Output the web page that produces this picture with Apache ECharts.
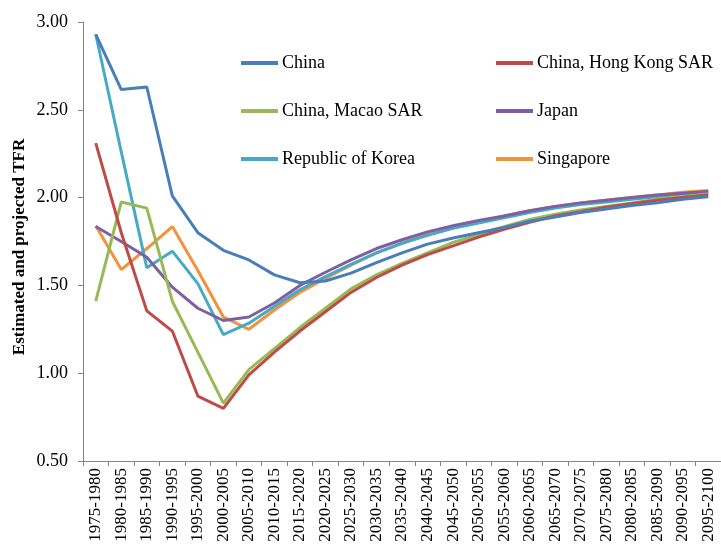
<!DOCTYPE html>
<html><head><meta charset="utf-8">
<script src="https://cdn.jsdelivr.net/npm/echarts@6/dist/echarts.min.js"></script>
<style>html,body{margin:0;padding:0;background:#fff}#c{width:721px;height:552px}</style>
</head><body><div id="c"></div>
<script>
var categories = ['1975-1980','1980-1985','1985-1990','1990-1995','1995-2000','2000-2005','2005-2010','2010-2015','2015-2020','2020-2025','2025-2030','2030-2035','2035-2040','2040-2045','2045-2050','2050-2055','2055-2060','2060-2065','2065-2070','2070-2075','2075-2080','2080-2085','2085-2090','2090-2095','2095-2100'];
var china = [2.93,2.615,2.63,2.01,1.80,1.70,1.645,1.56,1.515,1.525,1.57,1.63,1.685,1.735,1.77,1.80,1.83,1.865,1.89,1.915,1.935,1.955,1.97,1.99,2.005];
var hongKong = [2.31,1.80,1.355,1.24,0.87,0.80,0.99,1.12,1.24,1.35,1.46,1.545,1.615,1.675,1.725,1.775,1.82,1.86,1.895,1.92,1.945,1.965,1.985,2.00,2.015];
var macao = [1.41,1.975,1.94,1.41,1.12,0.83,1.02,1.14,1.26,1.37,1.48,1.56,1.625,1.685,1.745,1.79,1.835,1.875,1.905,1.93,1.95,1.97,1.99,2.005,2.02];
var japan = [1.835,1.75,1.66,1.49,1.37,1.30,1.32,1.40,1.50,1.575,1.645,1.71,1.76,1.805,1.84,1.87,1.895,1.925,1.95,1.97,1.985,2.00,2.015,2.025,2.035];
var korea = [2.93,2.26,1.60,1.695,1.51,1.22,1.285,1.38,1.475,1.55,1.62,1.685,1.74,1.785,1.825,1.855,1.885,1.915,1.94,1.96,1.975,1.99,2.005,2.02,2.03];
var singapore = [1.84,1.59,1.71,1.835,1.585,1.32,1.25,1.36,1.46,1.54,1.615,1.685,1.74,1.79,1.83,1.86,1.895,1.925,1.95,1.97,1.985,2.00,2.015,2.03,2.04];
var yTicks = [0.5,1.0,1.5,2.0,2.5,3.0];
var yTitle = 'Estimated and projected TFR';

var names = ['China','China, Hong Kong SAR','China, Macao SAR','Japan','Republic of Korea','Singapore'];
var colors = ['#4A7EBB','#BE4B48','#98B954','#7D60A0','#46AAC5','#F3913D'];
var dataSets = [china,hongKong,macao,japan,korea,singapore];
var font = '"Liberation Serif","Times New Roman",serif';

var series = names.map(function(n,i){
  return {name:n,type:'line',data:dataSets[i],symbol:'none',smooth:false,
    lineStyle:{width:3,color:colors[i]},itemStyle:{color:colors[i]},z:10-i};
});

var legendCommon = {orient:'vertical',icon:'rect',itemWidth:37,itemHeight:4,itemGap:30,padding:0,
  textStyle:{fontFamily:font,fontSize:18,color:'#000',padding:[0,0,0,-1]},selectedMode:false};

var chart = echarts.init(document.getElementById('c'),null,{renderer:'canvas'});
chart.setOption({
  animation:false,
  backgroundColor:'#fff',
  grid:{left:83,right:0,top:22,bottom:91,containLabel:false,outerBoundsMode:'none'},
  legend:[
    Object.assign({left:241,top:54,data:['China','China, Macao SAR','Republic of Korea']},legendCommon),
    Object.assign({left:496,top:54,data:['China, Hong Kong SAR','Japan','Singapore']},legendCommon)
  ],
  graphic:[{type:'text',x:20,y:247,rotation:Math.PI/2,
    style:{text:yTitle,fontFamily:font,fontSize:17,fontWeight:'bold',fill:'#000',align:'center',verticalAlign:'middle'}}],
  xAxis:{type:'category',data:categories,boundaryGap:true,
    axisLine:{lineStyle:{color:'#868686',width:1}},
    axisTick:{show:true,alignWithLabel:false,length:5,lineStyle:{color:'#868686'}},
    axisLabel:{rotate:90,interval:0,fontFamily:font,fontSize:17,color:'#000',margin:7},
    splitLine:{show:false}},
  yAxis:{type:'value',min:yTicks[0],max:yTicks[yTicks.length-1],interval:0.5,
    axisLine:{show:true,lineStyle:{color:'#868686',width:1}},
    axisTick:{show:true,length:5,lineStyle:{color:'#868686'}},
    axisLabel:{fontFamily:font,fontSize:18,color:'#000',margin:15,formatter:function(v){return v.toFixed(2);}},
    splitLine:{show:false}},
  series:series
});
</script></body></html>
